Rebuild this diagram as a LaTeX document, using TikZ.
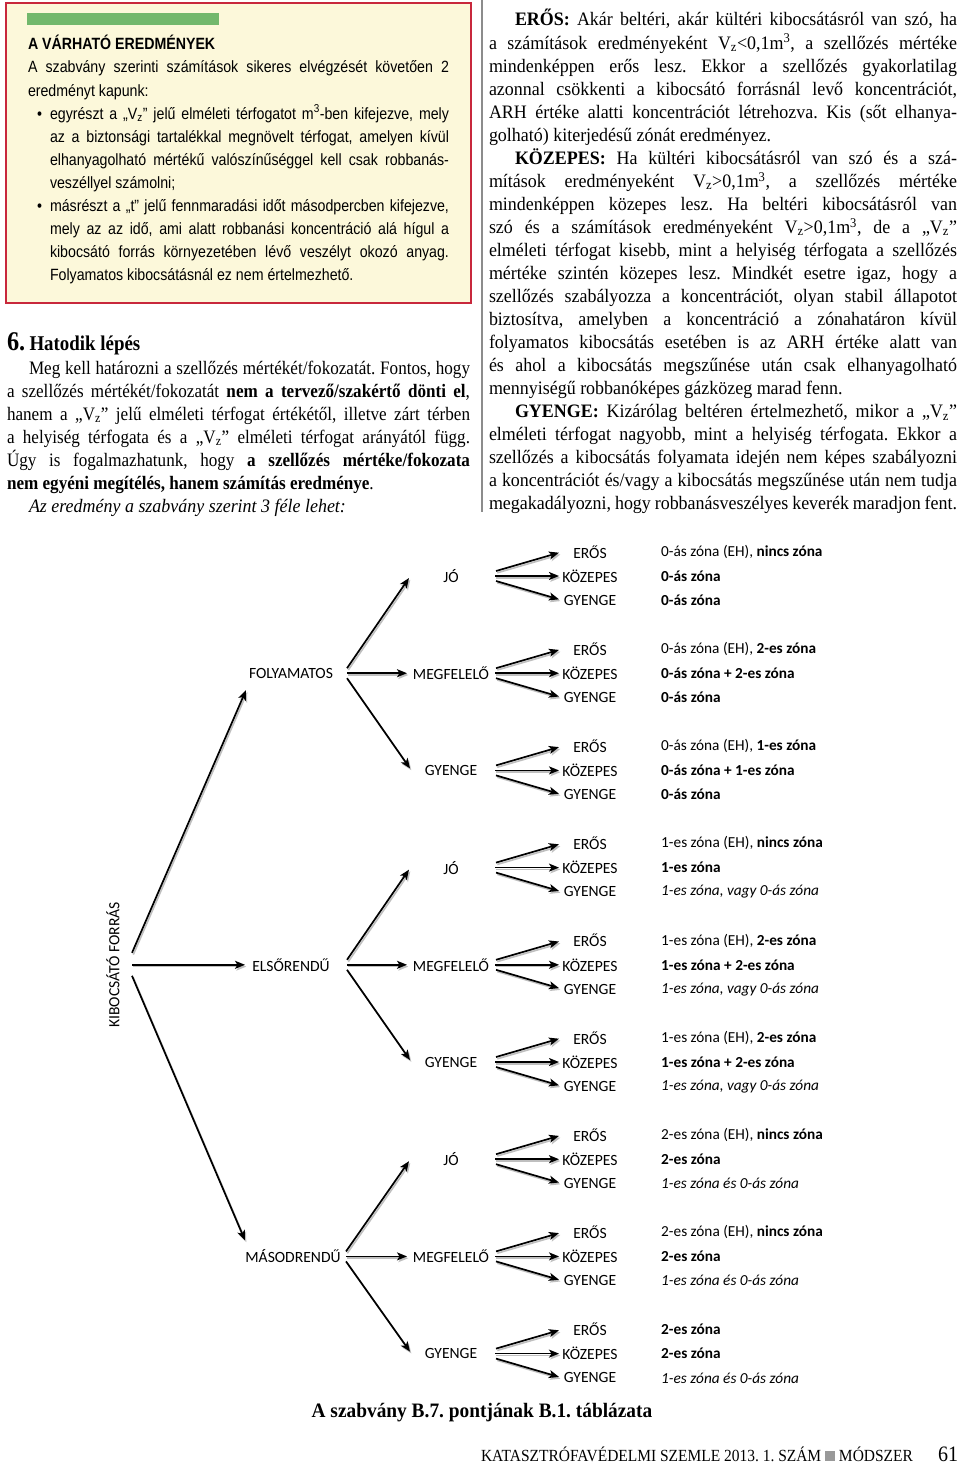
\documentclass[tikz,border=0pt]{standalone}
\usepackage{fontspec}
\setmainfont{Liberation Serif}
\newfontfamily\rserif{Liberation Serif}[FakeStretch=0.945]
\newfontfamily\lserif{Liberation Serif}[FakeStretch=0.9]
\newfontfamily\boxsans{Liberation Sans}[FakeStretch=0.87]
\newfontfamily\treef{Carlito}
\newfontfamily\footf{Liberation Serif}[FakeStretch=0.91]
\usetikzlibrary{arrows.meta,calc}
\frenchspacing

\definecolor{boxfill}{HTML}{FCF8DA}
\definecolor{boxred}{HTML}{C8283C}
\definecolor{bargreen}{HTML}{72B86C}

\newcommand\jl[2]{\makebox[#1pt][s]{#2}}

\tikzset{
  txt/.style={anchor=base west, inner sep=0pt, outer sep=0pt},
  rtxt/.style={txt, font=\rserif\fontsize{19}{23}\selectfont},
  ltxt/.style={txt, font=\lserif\fontsize{19}{23}\selectfont},
  btxt/.style={txt, font=\boxsans\fontsize{16.3}{23}\selectfont},
  lab/.style={inner sep=0pt, font=\treef\fontsize{15.6}{18}\selectfont},
  res/.style={anchor=west, inner sep=0pt, font=\treef\fontsize{15.3}{18}\selectfont},
  arr/.style={line width=1.7pt, -{Stealth[length=10pt,width=8pt,inset=2.5pt]},
    preaction={draw=black!25, line width=1.6pt, transform canvas={shift={(1.3pt,-1.8pt)}}}},
}

% tree block: name, y, label, three results
\newcommand\tblock[6]{%
  \node[lab] (#1) at (451,#2) {#3};
  \node[lab] (#1e) at (590,#2-24.3) {ERŐS};
  \node[lab] (#1k) at (590,#2) {KÖZEPES};
  \node[lab] (#1g) at (590,#2+24.3) {GYENGE};
  \node[res] (#1re) at (661,#2-24.3) {#4};
  \node[res] (#1rk) at (661,#2) {#5};
  \node[res] (#1rg) at (661,#2+24.3) {#6};
  \draw[arr] ($(#1)+(45,-5)$) -- ($(#1e)+(-31,1)$);
  \draw[arr] ($(#1)+(44,0)$) -- ($(#1k)+(-31,0)$);
  \draw[arr] ($(#1)+(45,5)$) -- ($(#1g)+(-31,-1)$);
}
% level-one fan: L1 node, start offset, upper, middle, lower
\newcommand\lone[5]{%
  \draw[arr] ($(#1)+(#2,-5)$) -- ($(#3)+(-42,2)$);
  \draw[arr] ($(#1)+(#2,0)$) -- ($(#4)+(-44,0)$);
  \draw[arr] ($(#1)+(#2,5)$) -- ($(#5)+(-41,-2)$);
}

\begin{document}
\begin{tikzpicture}[x=1pt,y=-1pt]
\useasboundingbox (0,0) rectangle (960,1464);
\fill[white] (0,0) rectangle (960,1464);

% ---------- framed box ----------
\draw[boxred, fill=boxfill, line width=1.3pt] (6,3) rectangle (471,303);
\fill[bargreen] (27,13) rectangle (219,25);
\node[btxt, font=\boxsans\bfseries\fontsize{16.3}{23}\selectfont] (bt) at (28,50) {A VÁRHATÓ EREDMÉNYEK};
\node[btxt] (b1) at (28,73) {\jl{421}{A szabvány szerinti számítások sikeres elvégzését követően 2}};
\node[btxt] (b2) at (28,96.1) {eredményt kapunk:};
\node[btxt] (bu1) at (37,119.2) {•};
\node[btxt] (b3) at (50,119.2) {\jl{399}{egyrészt a „V\textsubscript{z}” jelű elméleti térfogatot m\textsuperscript{3}-ben kifejezve, mely}};
\node[btxt] (b4) at (50,142.3) {\jl{399}{az a biztonsági tartalékkal megnövelt térfogat, amelyen kívül}};
\node[btxt] (b5) at (50,165.4) {\jl{399}{elhanyagolható mértékű valószínűséggel kell csak robbanás-}};
\node[btxt] (b6) at (50,188.5) {veszéllyel számolni;};
\node[btxt] (bu2) at (37,211.6) {•};
\node[btxt] (b7) at (50,211.6) {\jl{399}{másrészt a „t” jelű fennmaradási időt másodpercben kifejezve,}};
\node[btxt] (b8) at (50,234.7) {\jl{399}{mely az az idő, ami alatt robbanási koncentráció alá hígul a}};
\node[btxt] (b9) at (50,257.8) {\jl{399}{kibocsátó forrás környezetében lévő veszélyt okozó anyag.}};
\node[btxt] (b10) at (50,280.9) {Folyamatos kibocsátásnál ez nem értelmezhető.};

% ---------- left column text ----------
\node[ltxt] (h6) at (7,350) {\bfseries{\fontsize{27}{27}\selectfont 6.} {\fontsize{21}{23}\selectfont Hatodik lépés}};
\node[ltxt] (l1) at (29,374) {\jl{441}{Meg kell határozni a szellőzés mértékét/fokozatát. Fontos, hogy}};
\node[ltxt] (l2) at (7,397) {\jl{463}{a szellőzés mértékét/fokozatát \textbf{nem a tervező/szakértő dönti el},}};
\node[ltxt] (l3) at (7,420.1) {\jl{463}{hanem a „V\textsubscript{z}” jelű elméleti térfogat értékétől, illetve zárt térben}};
\node[ltxt] (l4) at (7,443.2) {\jl{463}{a helyiség térfogata és a „V\textsubscript{z}” elméleti térfogat arányától függ.}};
\node[ltxt] (l5) at (7,466.3) {\jl{463}{Úgy is fogalmazhatunk, hogy \textbf{a szellőzés mértéke/fokozata}}};
\node[ltxt] (l6) at (7,489.4) {\textbf{nem egyéni megítélés, hanem számítás eredménye}.};
\node[txt, font=\rserif\itshape\fontsize{19}{23}\selectfont] (l7) at (29,512.5) {Az eredmény a szabvány szerint 3 féle lehet:};

% ---------- column rule ----------
\draw[black!45, line width=1.2pt] (482,0) -- (482,512);

% ---------- right column text ----------
\node[rtxt] (r1) at (515,26) {\jl{442}{\textbf{ERŐS:} Akár beltéri, akár kültéri kibocsátásról van szó, ha}};
\node[rtxt] (r2) at (489,49.04) {\jl{468}{a számítások eredményeként V\textsubscript{z}<0,1m\textsuperscript{3}, a szellőzés mértéke}};
\node[rtxt] (r3) at (489,72.08) {\jl{468}{mindenképpen erős lesz. Ekkor a szellőzés gyakorlatilag}};
\node[rtxt] (r4) at (489,95.12) {\jl{468}{azonnal csökkenti a kibocsátó forrásnál levő koncentrációt,}};
\node[rtxt] (r5) at (489,118.16) {\jl{468}{ARH értéke alatti koncentrációt létrehozva. Kis (sőt elhanya-}};
\node[rtxt] (r6) at (489,141.2) {golható) kiterjedésű zónát eredményez.};
\node[rtxt] (r7) at (515,164.24) {\jl{442}{\textbf{KÖZEPES:} Ha kültéri kibocsátásról van szó és a szá-}};
\node[rtxt] (r8) at (489,187.28) {\jl{468}{mítások eredményeként V\textsubscript{z}>0,1m\textsuperscript{3}, a szellőzés mértéke}};
\node[rtxt] (r9) at (489,210.32) {\jl{468}{mindenképpen közepes lesz. Ha beltéri kibocsátásról van}};
\node[rtxt] (r10) at (489,233.36) {\jl{468}{szó és a számítások eredményeként V\textsubscript{z}>0,1m\textsuperscript{3}, de a „V\textsubscript{z}”}};
\node[rtxt] (r11) at (489,256.4) {\jl{468}{elméleti térfogat kisebb, mint a helyiség térfogata a szellőzés}};
\node[rtxt] (r12) at (489,279.44) {\jl{468}{mértéke szintén közepes lesz. Mindkét esetre igaz, hogy a}};
\node[rtxt] (r13) at (489,302.48) {\jl{468}{szellőzés szabályozza a koncentrációt, olyan stabil állapotot}};
\node[rtxt] (r14) at (489,325.52) {\jl{468}{biztosítva, amelyben a koncentráció a zónahatáron kívül}};
\node[rtxt] (r15) at (489,348.56) {\jl{468}{folyamatos kibocsátás esetében is az ARH értéke alatt van}};
\node[rtxt] (r16) at (489,371.6) {\jl{468}{és ahol a kibocsátás megszűnése után csak elhanyagolható}};
\node[rtxt] (r17) at (489,394.64) {mennyiségű robbanóképes gázközeg marad fenn.};
\node[rtxt] (r18) at (515,417.68) {\jl{442}{\textbf{GYENGE:} Kizárólag beltéren értelmezhető, mikor a „V\textsubscript{z}”}};
\node[rtxt] (r19) at (489,440.72) {\jl{468}{elméleti térfogat nagyobb, mint a helyiség térfogata. Ekkor a}};
\node[rtxt] (r20) at (489,463.76) {\jl{468}{szellőzés a kibocsátás folyamata idején nem képes szabályozni}};
\node[rtxt] (r21) at (489,486.8) {\jl{468}{a koncentrációt és/vagy a kibocsátás megszűnése után nem tudja}};
\node[rtxt] (r22) at (489,509.84) {\jl{468}{megakadályozni, hogy robbanásveszélyes keverék maradjon fent.}};

% ---------- tree ----------
\node[lab, rotate=90] (src) at (113,964.8) {KIBOCSÁTÓ FORRÁS};
\node[lab] (folyam) at (291,673.2) {FOLYAMATOS};
\node[lab] (elso) at (291,964.8) {ELSŐRENDŰ};
\node[lab] (maso) at (293,1256.4) {MÁSODRENDŰ};

\tblock{fj}{576}{JÓ}{0-ás zóna (EH), \textbf{nincs zóna}}{\textbf{0-ás zóna}}{\textbf{0-ás zóna}}
\tblock{fm}{673.2}{MEGFELELŐ}{0-ás zóna (EH), \textbf{2-es zóna}}{\textbf{0-ás zóna + 2-es zóna}}{\textbf{0-ás zóna}}
\tblock{fg}{770.4}{GYENGE}{0-ás zóna (EH), \textbf{1-es zóna}}{\textbf{0-ás zóna + 1-es zóna}}{\textbf{0-ás zóna}}
\tblock{ej}{867.6}{JÓ}{1-es zóna (EH), \textbf{nincs zóna}}{\textbf{1-es zóna}}{\itshape 1-es zóna, vagy 0-ás zóna}
\tblock{em}{964.8}{MEGFELELŐ}{1-es zóna (EH), \textbf{2-es zóna}}{\textbf{1-es zóna + 2-es zóna}}{\itshape 1-es zóna, vagy 0-ás zóna}
\tblock{eg}{1062}{GYENGE}{1-es zóna (EH), \textbf{2-es zóna}}{\textbf{1-es zóna + 2-es zóna}}{\itshape 1-es zóna, vagy 0-ás zóna}
\tblock{mj}{1159.2}{JÓ}{2-es zóna (EH), \textbf{nincs zóna}}{\textbf{2-es zóna}}{\itshape 1-es zóna és 0-ás zóna}
\tblock{mm}{1256.4}{MEGFELELŐ}{2-es zóna (EH), \textbf{nincs zóna}}{\textbf{2-es zóna}}{\itshape 1-es zóna és 0-ás zóna}
\tblock{mg}{1353.6}{GYENGE}{\textbf{2-es zóna}}{\textbf{2-es zóna}}{\itshape 1-es zóna és 0-ás zóna}

\draw[arr] ($(src)+(19,-12)$) -- ($(folyam)+(-45,17)$);
\draw[arr] ($(src)+(19,0)$) -- ($(elso)+(-46,0)$);
\draw[arr] ($(src)+(19,11)$) -- ($(maso)+(-48,-16)$);

\lone{folyam}{56}{fj}{fm}{fg}
\lone{elso}{56}{ej}{em}{eg}
\lone{maso}{53}{mj}{mm}{mg}

% ---------- caption and footer ----------
\node[anchor=base, inner sep=0pt, font=\rserif\bfseries\fontsize{20.5}{22}\selectfont] (cap) at (482,1417) {A szabvány B.7. pontjának B.1. táblázata};
\node[txt, font=\footf\fontsize{17}{18}\selectfont] (foot) at (481,1461) {KATASZTRÓFAVÉDELMI SZEMLE 2013. 1. SZÁM \textcolor{black!40}{\rule{10pt}{10pt}} MÓDSZER};
\node[txt, font=\footf\fontsize{22}{22}\selectfont] (pg) at (938,1461) {61};
\end{tikzpicture}
\end{document}
